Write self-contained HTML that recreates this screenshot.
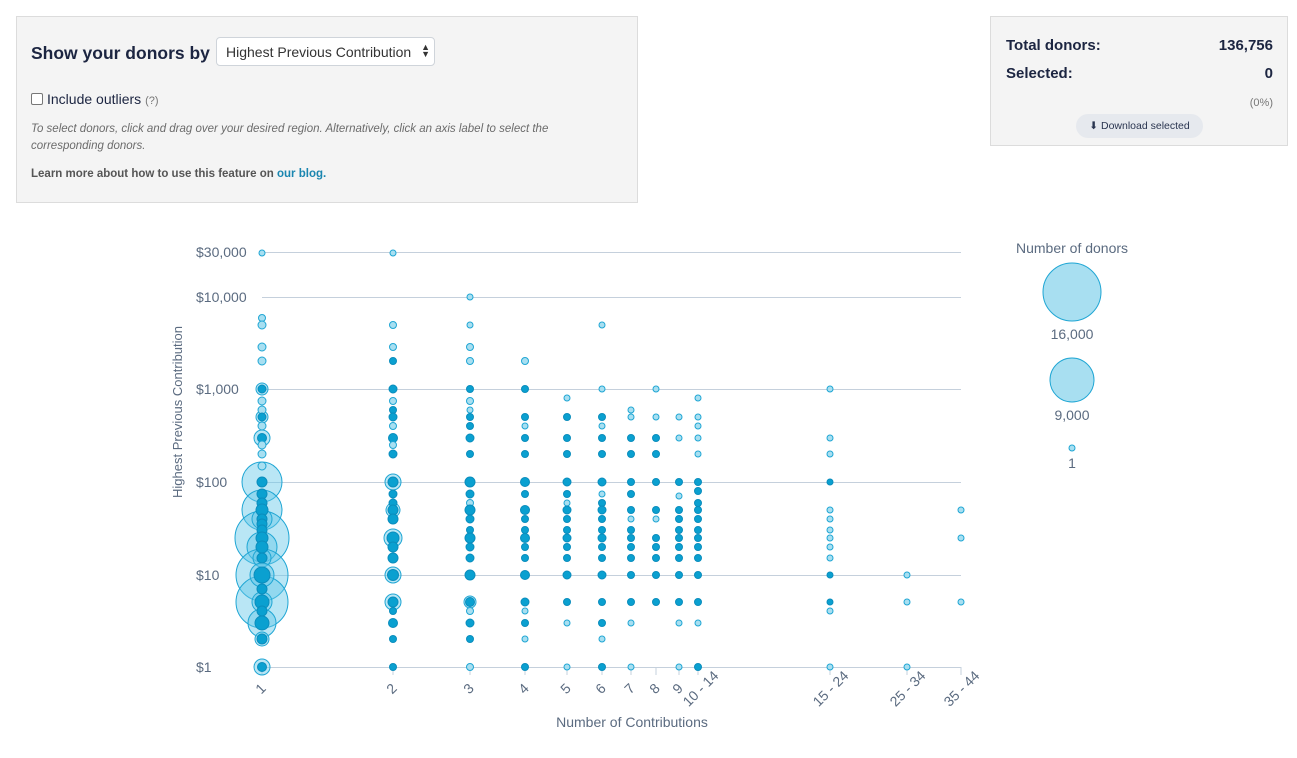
<!DOCTYPE html>
<html><head><meta charset="utf-8"><style>
body{margin:0;width:1297px;height:758px;background:#fff;font-family:"Liberation Sans",sans-serif;position:relative;overflow:hidden;color:#1c2541}
.p{position:absolute;background:#f4f4f4;border:1px solid #dcdcdc;box-sizing:border-box}
.sel{position:absolute;left:199px;top:20px;width:219px;height:29px;background:#fff;border:1px solid #cfd4da;border-radius:4px;box-sizing:border-box;font-size:14px;color:#333;padding:6px 0 0 9px}
.a{fill:#a8dff1;stroke:#1fa6d4;stroke-width:1}
.b{fill:rgba(100,200,232,.45);stroke:#1fa6d4;stroke-width:1}
.d{fill:#0aa0d0;stroke:#0a8dbd;stroke-width:1}
svg text{font-family:"Liberation Sans",sans-serif;fill:#5b6b80;font-size:14px}
</style></head><body>
<div class="p" style="left:16px;top:16px;width:622px;height:187px">
<div style="position:absolute;left:14px;top:26px;font-size:17.5px;font-weight:bold">Show your donors by</div>
<div class="sel">Highest Previous Contribution <span style="position:absolute;right:4px;top:6px;font-size:9px;line-height:7px">▲<br>▼</span></div>
<div style="position:absolute;left:14px;top:74px;font-size:14px"><span style="display:inline-block;width:10px;height:10px;border:1px solid #777;border-radius:2px;background:#fff;vertical-align:-1px;margin-right:4px"></span>Include outliers <span style="font-size:11px;color:#777">(?)</span></div>
<div style="position:absolute;left:14px;top:104px;width:578px;font-size:11.5px;font-style:italic;color:#6b6b6b;line-height:17px">To select donors, click and drag over your desired region. Alternatively, click an axis label to select the corresponding donors.</div>
<div style="position:absolute;left:14px;top:151px;font-size:11.5px;font-weight:bold;color:#555">Learn more about how to use this feature on <span style="color:#1a86b0">our blog.</span></div>
</div>
<div class="p" style="left:990px;top:16px;width:298px;height:130px">
<div style="position:absolute;left:15px;top:20px;font-size:15px;font-weight:bold">Total donors:</div>
<div style="position:absolute;right:14px;top:20px;font-size:15px;font-weight:bold">136,756</div>
<div style="position:absolute;left:15px;top:48px;font-size:15px;font-weight:bold">Selected:</div>
<div style="position:absolute;right:14px;top:48px;font-size:15px;font-weight:bold">0</div>
<div style="position:absolute;right:14px;top:80px;font-size:11px;color:#777">(0%)</div>
<div style="position:absolute;left:85px;top:97px;width:127px;height:24px;border-radius:12px;background:#e6e9ee;font-size:10.5px;color:#2a3550;text-align:center;line-height:24px">⬇ Download selected</div>
</div>
<svg width="1297" height="758" style="position:absolute;left:0;top:0">
<g stroke="#c5d0dc" stroke-width="1">
<line x1="262" y1="252.5" x2="961" y2="252.5"/><line x1="262" y1="297.5" x2="961" y2="297.5"/><line x1="262" y1="389.5" x2="961" y2="389.5"/><line x1="262" y1="482.5" x2="961" y2="482.5"/><line x1="262" y1="575.5" x2="961" y2="575.5"/><line x1="262" y1="667.5" x2="961" y2="667.5"/>
<line x1="262" y1="667" x2="262" y2="675"/><line x1="393" y1="667" x2="393" y2="675"/><line x1="470" y1="667" x2="470" y2="675"/><line x1="525" y1="667" x2="525" y2="675"/><line x1="567" y1="667" x2="567" y2="675"/><line x1="602" y1="667" x2="602" y2="675"/><line x1="631" y1="667" x2="631" y2="675"/><line x1="656" y1="667" x2="656" y2="675"/><line x1="679" y1="667" x2="679" y2="675"/><line x1="698" y1="667" x2="698" y2="675"/><line x1="830" y1="667" x2="830" y2="675"/><line x1="907" y1="667" x2="907" y2="675"/><line x1="961" y1="667" x2="961" y2="675"/>
</g>
<g>
<text x="196" y="257">$30,000</text><text x="196" y="302">$10,000</text><text x="196" y="394">$1,000</text><text x="196" y="487">$100</text><text x="196" y="580">$10</text><text x="196" y="672">$1</text>
</g>
<g text-anchor="middle">
<text transform="translate(264,692) rotate(-45)">1</text>
<text transform="translate(395,692) rotate(-45)">2</text>
<text transform="translate(472,692) rotate(-45)">3</text>
<text transform="translate(527,692) rotate(-45)">4</text>
<text transform="translate(569,692) rotate(-45)">5</text>
<text transform="translate(604,692) rotate(-45)">6</text>
<text transform="translate(633,692) rotate(-45)">7</text>
<text transform="translate(658,692) rotate(-45)">8</text>
<text transform="translate(681,692) rotate(-45)">9</text>
<text transform="translate(704,692) rotate(-45)">10 - 14</text>
<text transform="translate(834,692) rotate(-45)">15 - 24</text>
<text transform="translate(911,692) rotate(-45)">25 - 34</text>
<text transform="translate(965,692) rotate(-45)">35 - 44</text>
</g>
<text x="632" y="727" text-anchor="middle">Number of Contributions</text>
<text transform="translate(182,412) rotate(-90)" text-anchor="middle" style="font-size:13px">Highest Previous Contribution</text>
<text x="1072" y="253" text-anchor="middle">Number of donors</text>
<circle class="a" cx="1072" cy="292" r="29"/><text x="1072" y="339" text-anchor="middle">16,000</text>
<circle class="a" cx="1072" cy="380" r="22"/><text x="1072" y="420" text-anchor="middle">9,000</text>
<circle class="a" cx="1072" cy="448" r="3"/><text x="1072" y="468" text-anchor="middle">1</text>
<g>
<circle class="b" cx="262" cy="482" r="20"/><circle class="b" cx="262" cy="510" r="20"/><circle class="b" cx="262" cy="538" r="27"/><circle class="b" cx="262" cy="547" r="15"/><circle class="b" cx="262" cy="575" r="26"/><circle class="b" cx="262" cy="602" r="26"/><circle class="b" cx="262" cy="623" r="14"/><circle class="b" cx="262" cy="519" r="10"/><circle class="b" cx="262" cy="558" r="9"/><circle class="b" cx="262" cy="575" r="12"/><circle class="b" cx="262" cy="602" r="10"/><circle class="b" cx="262" cy="639" r="7"/><circle class="b" cx="262" cy="667" r="8"/><circle class="b" cx="262" cy="438" r="8"/><circle class="b" cx="262" cy="417" r="6"/><circle class="b" cx="262" cy="389" r="6"/>
<circle class="a" cx="262" cy="253" r="3"/><circle class="a" cx="262" cy="318" r="3.5"/><circle class="a" cx="262" cy="325" r="4"/><circle class="a" cx="262" cy="347" r="4"/><circle class="a" cx="262" cy="361" r="4"/>
<circle class="d" cx="262" cy="389" r="4"/><circle class="a" cx="262" cy="401" r="4"/><circle class="a" cx="262" cy="410" r="4"/><circle class="d" cx="262" cy="417" r="4"/><circle class="a" cx="262" cy="426" r="4"/><circle class="d" cx="262" cy="438" r="4.5"/><circle class="a" cx="262" cy="445" r="4"/><circle class="a" cx="262" cy="454" r="4"/><circle class="a" cx="262" cy="466" r="4"/>
<circle class="d" cx="262" cy="482" r="5"/><circle class="d" cx="262" cy="494" r="5"/><circle class="d" cx="262" cy="503" r="5"/><circle class="d" cx="262" cy="510" r="6"/><circle class="d" cx="262" cy="519" r="5"/><circle class="d" cx="262" cy="524" r="5"/><circle class="d" cx="262" cy="530" r="5"/><circle class="d" cx="262" cy="538" r="6"/><circle class="d" cx="262" cy="547" r="6"/><circle class="d" cx="262" cy="558" r="5"/><circle class="d" cx="262" cy="575" r="8"/><circle class="d" cx="262" cy="589" r="5"/><circle class="d" cx="262" cy="602" r="7"/><circle class="d" cx="262" cy="611" r="5"/><circle class="d" cx="262" cy="623" r="7"/><circle class="d" cx="262" cy="639" r="5"/><circle class="d" cx="262" cy="667" r="4.5"/>
</g>
<g>
<circle class="b" cx="393" cy="482" r="8"/><circle class="b" cx="393" cy="538" r="9"/><circle class="b" cx="393" cy="575" r="8"/><circle class="b" cx="393" cy="602" r="8"/><circle class="b" cx="393" cy="510" r="7"/>
<circle class="a" cx="393" cy="253" r="3"/><circle class="a" cx="393" cy="325" r="3.5"/><circle class="a" cx="393" cy="347" r="3.5"/><circle class="d" cx="393" cy="361" r="3.5"/><circle class="d" cx="393" cy="389" r="4"/><circle class="a" cx="393" cy="401" r="3.5"/><circle class="d" cx="393" cy="410" r="3.5"/><circle class="d" cx="393" cy="417" r="4"/><circle class="a" cx="393" cy="426" r="3.5"/><circle class="d" cx="393" cy="438" r="4.5"/><circle class="a" cx="393" cy="445" r="3.5"/><circle class="d" cx="393" cy="454" r="4"/>
<circle class="d" cx="393" cy="482" r="5"/><circle class="d" cx="393" cy="494" r="4"/><circle class="d" cx="393" cy="503" r="4"/><circle class="d" cx="393" cy="510" r="5"/><circle class="d" cx="393" cy="519" r="5"/><circle class="d" cx="393" cy="538" r="6"/><circle class="d" cx="393" cy="547" r="5"/><circle class="d" cx="393" cy="558" r="5"/><circle class="d" cx="393" cy="575" r="5.5"/><circle class="d" cx="393" cy="602" r="5"/><circle class="d" cx="393" cy="611" r="3.5"/><circle class="d" cx="393" cy="623" r="4.5"/><circle class="d" cx="393" cy="639" r="3.5"/><circle class="d" cx="393" cy="667" r="3.5"/>
</g>
<g>
<circle class="a" cx="470" cy="297" r="3"/><circle class="a" cx="470" cy="325" r="3"/><circle class="a" cx="470" cy="347" r="3.5"/><circle class="a" cx="470" cy="361" r="3.5"/><circle class="d" cx="470" cy="389" r="3.5"/><circle class="a" cx="470" cy="401" r="3.5"/><circle class="a" cx="470" cy="410" r="3"/><circle class="d" cx="470" cy="417" r="3.5"/><circle class="d" cx="470" cy="426" r="3.5"/><circle class="d" cx="470" cy="438" r="4"/><circle class="d" cx="470" cy="454" r="3.5"/>
<circle class="d" cx="470" cy="482" r="5"/><circle class="d" cx="470" cy="494" r="4"/><circle class="a" cx="470" cy="503" r="3.5"/><circle class="d" cx="470" cy="510" r="5"/><circle class="d" cx="470" cy="519" r="4"/><circle class="d" cx="470" cy="530" r="3.5"/><circle class="d" cx="470" cy="538" r="5"/><circle class="d" cx="470" cy="547" r="4"/><circle class="d" cx="470" cy="558" r="4"/><circle class="d" cx="470" cy="575" r="5"/><circle class="b" cx="470" cy="602" r="6"/><circle class="d" cx="470" cy="602" r="4.5"/><circle class="a" cx="470" cy="611" r="3.5"/><circle class="d" cx="470" cy="623" r="4"/><circle class="d" cx="470" cy="639" r="3.5"/><circle class="a" cx="470" cy="667" r="3.5"/>
</g>
<g>
<circle class="a" cx="525" cy="361" r="3.5"/><circle class="d" cx="525" cy="389" r="3.5"/><circle class="d" cx="525" cy="417" r="3.5"/><circle class="a" cx="525" cy="426" r="3"/><circle class="d" cx="525" cy="438" r="3.5"/><circle class="d" cx="525" cy="454" r="3.5"/><circle class="d" cx="525" cy="482" r="4.5"/><circle class="d" cx="525" cy="494" r="3.5"/><circle class="d" cx="525" cy="510" r="4.5"/><circle class="d" cx="525" cy="519" r="3.5"/><circle class="d" cx="525" cy="530" r="3.5"/><circle class="d" cx="525" cy="538" r="4.5"/><circle class="d" cx="525" cy="547" r="3.5"/><circle class="d" cx="525" cy="558" r="3.5"/><circle class="d" cx="525" cy="575" r="4.5"/><circle class="d" cx="525" cy="602" r="4"/><circle class="a" cx="525" cy="611" r="3"/><circle class="d" cx="525" cy="623" r="3.5"/><circle class="a" cx="525" cy="639" r="3"/><circle class="d" cx="525" cy="667" r="3.5"/>
</g>
<g>
<circle class="a" cx="567" cy="398" r="3"/><circle class="d" cx="567" cy="417" r="3.5"/><circle class="d" cx="567" cy="438" r="3.5"/><circle class="d" cx="567" cy="454" r="3.5"/><circle class="d" cx="567" cy="482" r="4"/><circle class="d" cx="567" cy="494" r="3.5"/><circle class="a" cx="567" cy="503" r="3"/><circle class="d" cx="567" cy="510" r="4"/><circle class="d" cx="567" cy="519" r="3.5"/><circle class="d" cx="567" cy="530" r="3.5"/><circle class="d" cx="567" cy="538" r="4"/><circle class="d" cx="567" cy="547" r="3.5"/><circle class="d" cx="567" cy="558" r="3.5"/><circle class="d" cx="567" cy="575" r="4"/><circle class="d" cx="567" cy="602" r="3.5"/><circle class="a" cx="567" cy="623" r="3"/><circle class="a" cx="567" cy="667" r="3"/>
</g>
<g>
<circle class="a" cx="602" cy="325" r="3"/><circle class="a" cx="602" cy="389" r="3"/><circle class="d" cx="602" cy="417" r="3.5"/><circle class="a" cx="602" cy="426" r="3"/><circle class="d" cx="602" cy="438" r="3.5"/><circle class="d" cx="602" cy="454" r="3.5"/><circle class="d" cx="602" cy="482" r="4"/><circle class="a" cx="602" cy="494" r="3"/><circle class="d" cx="602" cy="503" r="3.5"/><circle class="d" cx="602" cy="510" r="4"/><circle class="d" cx="602" cy="519" r="3.5"/><circle class="d" cx="602" cy="530" r="3.5"/><circle class="d" cx="602" cy="538" r="4"/><circle class="d" cx="602" cy="547" r="3.5"/><circle class="d" cx="602" cy="558" r="3.5"/><circle class="d" cx="602" cy="575" r="4"/><circle class="d" cx="602" cy="602" r="3.5"/><circle class="d" cx="602" cy="623" r="3.5"/><circle class="a" cx="602" cy="639" r="3"/><circle class="d" cx="602" cy="667" r="3.5"/>
</g>
<g>
<circle class="a" cx="631" cy="410" r="3"/><circle class="a" cx="631" cy="417" r="3"/><circle class="d" cx="631" cy="438" r="3.5"/><circle class="d" cx="631" cy="454" r="3.5"/><circle class="d" cx="631" cy="482" r="3.5"/><circle class="d" cx="631" cy="494" r="3.5"/><circle class="d" cx="631" cy="510" r="3.5"/><circle class="a" cx="631" cy="519" r="3"/><circle class="d" cx="631" cy="530" r="3.5"/><circle class="d" cx="631" cy="538" r="3.5"/><circle class="d" cx="631" cy="547" r="3.5"/><circle class="d" cx="631" cy="558" r="3.5"/><circle class="d" cx="631" cy="575" r="3.5"/><circle class="d" cx="631" cy="602" r="3.5"/><circle class="a" cx="631" cy="623" r="3"/><circle class="a" cx="631" cy="667" r="3"/>
</g>
<g>
<circle class="a" cx="656" cy="389" r="3"/><circle class="a" cx="656" cy="417" r="3"/><circle class="d" cx="656" cy="438" r="3.5"/><circle class="d" cx="656" cy="454" r="3.5"/><circle class="d" cx="656" cy="482" r="3.5"/><circle class="d" cx="656" cy="510" r="3.5"/><circle class="a" cx="656" cy="519" r="3"/><circle class="d" cx="656" cy="538" r="3.5"/><circle class="d" cx="656" cy="547" r="3.5"/><circle class="d" cx="656" cy="558" r="3.5"/><circle class="d" cx="656" cy="575" r="3.5"/><circle class="d" cx="656" cy="602" r="3.5"/>
</g>
<g>
<circle class="a" cx="679" cy="417" r="3"/><circle class="a" cx="679" cy="438" r="3"/><circle class="d" cx="679" cy="482" r="3.5"/><circle class="a" cx="679" cy="496" r="3"/><circle class="d" cx="679" cy="510" r="3.5"/><circle class="d" cx="679" cy="519" r="3.5"/><circle class="d" cx="679" cy="530" r="3.5"/><circle class="d" cx="679" cy="538" r="3.5"/><circle class="d" cx="679" cy="547" r="3.5"/><circle class="d" cx="679" cy="558" r="3.5"/><circle class="d" cx="679" cy="575" r="3.5"/><circle class="d" cx="679" cy="602" r="3.5"/><circle class="a" cx="679" cy="623" r="3"/><circle class="a" cx="679" cy="667" r="3"/>
</g>
<g>
<circle class="a" cx="698" cy="398" r="3"/><circle class="a" cx="698" cy="417" r="3"/><circle class="a" cx="698" cy="426" r="3"/><circle class="a" cx="698" cy="438" r="3"/><circle class="a" cx="698" cy="454" r="3"/><circle class="d" cx="698" cy="482" r="3.5"/><circle class="d" cx="698" cy="491" r="3.5"/><circle class="d" cx="698" cy="503" r="3.5"/><circle class="d" cx="698" cy="510" r="3.5"/><circle class="d" cx="698" cy="519" r="3.5"/><circle class="d" cx="698" cy="530" r="3.5"/><circle class="d" cx="698" cy="538" r="3.5"/><circle class="d" cx="698" cy="547" r="3.5"/><circle class="d" cx="698" cy="558" r="3.5"/><circle class="d" cx="698" cy="575" r="3.5"/><circle class="d" cx="698" cy="602" r="3.5"/><circle class="a" cx="698" cy="623" r="3"/><circle class="d" cx="698" cy="667" r="3.5"/>
</g>
<g>
<circle class="a" cx="830" cy="389" r="3"/><circle class="a" cx="830" cy="438" r="3"/><circle class="a" cx="830" cy="454" r="3"/><circle class="d" cx="830" cy="482" r="3"/><circle class="a" cx="830" cy="510" r="3"/><circle class="a" cx="830" cy="519" r="3"/><circle class="a" cx="830" cy="530" r="3"/><circle class="a" cx="830" cy="538" r="3"/><circle class="a" cx="830" cy="547" r="3"/><circle class="a" cx="830" cy="558" r="3"/><circle class="d" cx="830" cy="575" r="3"/><circle class="d" cx="830" cy="602" r="3"/><circle class="a" cx="830" cy="611" r="3"/><circle class="a" cx="830" cy="667" r="3"/>
<circle class="a" cx="907" cy="575" r="3"/><circle class="a" cx="907" cy="602" r="3"/><circle class="a" cx="907" cy="667" r="3"/>
<circle class="a" cx="961" cy="510" r="3"/><circle class="a" cx="961" cy="538" r="3"/><circle class="a" cx="961" cy="602" r="3"/>
</g>
</svg>
</body></html>
